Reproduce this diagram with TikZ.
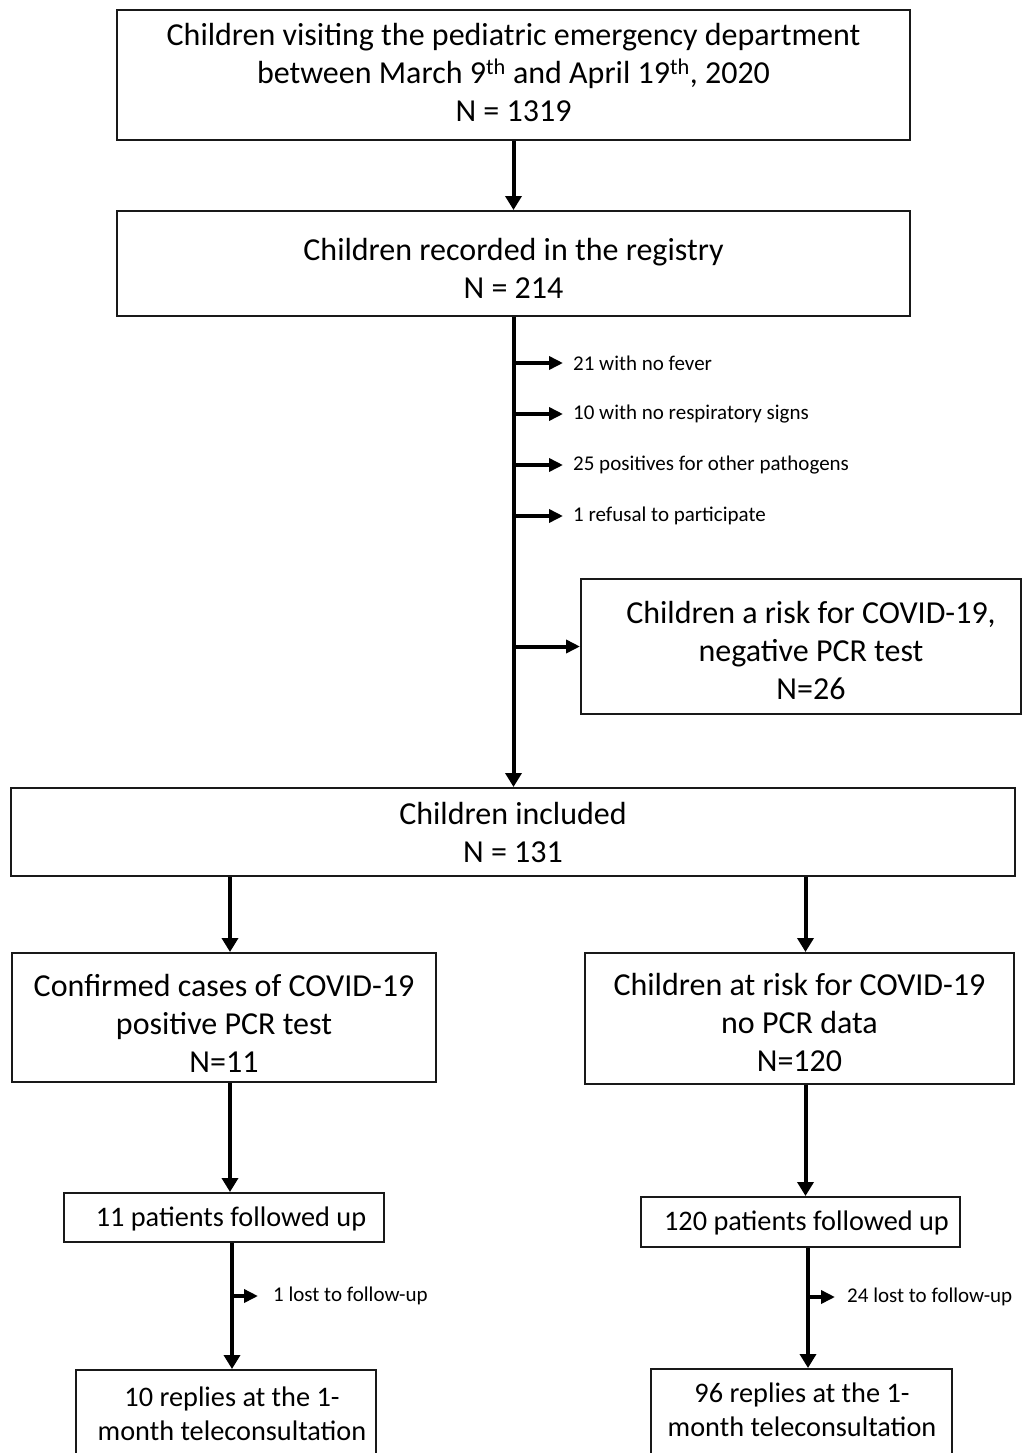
\documentclass[tikz,border=0pt]{standalone}
\usepackage{fontspec}
\setmainfont{Carlito}
\usetikzlibrary{arrows.meta}

\begin{document}
\begin{tikzpicture}[x=1pt,y=-1pt,
        box/.style={draw=black!90,line width=2pt,inner sep=0pt},
        txt/.style={align=center,inner sep=0pt,font=\fontsize{32}{38}\selectfont},
        smalltxt/.style={align=center,inner sep=0pt,font=\fontsize{28.3}{34}\selectfont},
        flow/.style={line width=4pt,-{Triangle[length=14pt,width=16pt]}},
        side/.style={line width=4pt,-{Triangle[length=14pt,width=13pt]}},
        note/.style={anchor=west,inner sep=0pt,font=\fontsize{21}{24}\selectfont}]
        \useasboundingbox (0,0) rectangle (1023,1453);
        \clip (0,0) rectangle (1023,1453);

        % top part
        \node[box,minimum width=793,minimum height=130] (visit) at (513.5,75) {};
        \node[txt] (visittxt) at ([yshift=2.5]visit.center) {Children visiting the pediatric emergency department\\between March 9\textsuperscript{th} and April 19\textsuperscript{th}, 2020\\N = 1319};
        \node[box,minimum width=793,minimum height=105] (reg) at (513.5,263.5) {};
        \node[txt] (regtxt) at ([yshift=-4.5]reg.center) {Children recorded in the registry\\N = 214};
        \draw[flow] (visit.south) -- (reg.north);

        % exclusions
        \node[note] (fever) at (573,363) {21 with no fever};
        \node[note] (resp) at (573,414) {10 with no respiratory signs};
        \node[note] (path) at (573,465) {25 positives for other pathogens};
        \node[note] (refus) at (573,516) {1 refusal to participate};
        \node[box,minimum width=440,minimum height=135] (neg) at (801,646.5) {};
        \node[txt] (negtxt) at ([xshift=10,yshift=-4.5]neg.center) {Children a risk for COVID-19,\\negative PCR test\\N=26};

        \node[box,minimum width=1004,minimum height=88] (incl) at (513,832) {};
        \node[txt] (incltxt) at (incl.center) {Children included\\N = 131};
        \draw[flow] (reg.south) -- (reg.south |- incl.north);
        \draw[side] (reg.south |- fever.west) -- ([xshift=-10]fever.west);
        \draw[side] (reg.south |- resp.west) -- ([xshift=-10]resp.west);
        \draw[side] (reg.south |- path.west) -- ([xshift=-10]path.west);
        \draw[side] (reg.south |- refus.west) -- ([xshift=-10]refus.west);
        \draw[side] (reg.south |- neg.west) -- (neg.west);

        % two groups
        \node[box,minimum width=424,minimum height=129] (conf) at (224,1017.5) {};
        \node[txt] (conftxt) at ([yshift=-5.5]conf.center) {Confirmed cases of COVID-19\\positive PCR test\\N=11};
        \node[box,minimum width=429,minimum height=131] (risk) at (799.5,1018.5) {};
        \node[txt] (risktxt) at ([yshift=-4]risk.center) {Children at risk for COVID-19\\no PCR data\\N=120};
        \draw[flow] ([xshift=6]incl.south -| conf.north) -- ([xshift=6]conf.north);
        \draw[flow] ([xshift=6]incl.south -| risk.north) -- ([xshift=6]risk.north);

        % follow up
        \node[box,minimum width=320,minimum height=49] (fol1) at (224,1217.5) {};
        \node[smalltxt] (fol1txt) at ([xshift=7,yshift=-1.5]fol1.center) {11 patients followed up};
        \node[box,minimum width=319,minimum height=50] (fol2) at (800.5,1222) {};
        \node[smalltxt] (fol2txt) at ([xshift=6,yshift=-1]fol2.center) {120 patients followed up};
        \draw[flow] ([xshift=6]conf.south) -- ([xshift=6]conf.south |- fol1.north);
        \draw[flow] ([xshift=6]risk.south) -- ([xshift=6]risk.south |- fol2.north);

        \node[box,minimum width=300,minimum height=92] (rep1) at (226,1416) {};
        \node[smalltxt] (rep1txt) at (232,1413.5) {10 replies at the 1-\\month teleconsultation};
        \node[box,minimum width=301,minimum height=92] (rep2) at (801.5,1415) {};
        \node[smalltxt] (rep2txt) at (802,1410) {96 replies at the 1-\\month teleconsultation};
        \node[note] (lost1) at (273,1296) {1 lost to follow-up};
        \node[note] (lost2) at (847,1297) {24 lost to follow-up};
        \draw[flow] ([xshift=8]fol1.south) -- ([xshift=8]fol1.south |- rep1.north);
        \draw[flow] ([xshift=7.5]fol2.south) -- ([xshift=7.5]fol2.south |- rep2.north);
        \draw[side] ([xshift=8]fol1.south |- lost1.west) -- ([xshift=-15]lost1.west);
        \draw[side] ([xshift=7.5]fol2.south |- lost2.west) -- ([xshift=-12]lost2.west);
\end{tikzpicture}
\end{document}
